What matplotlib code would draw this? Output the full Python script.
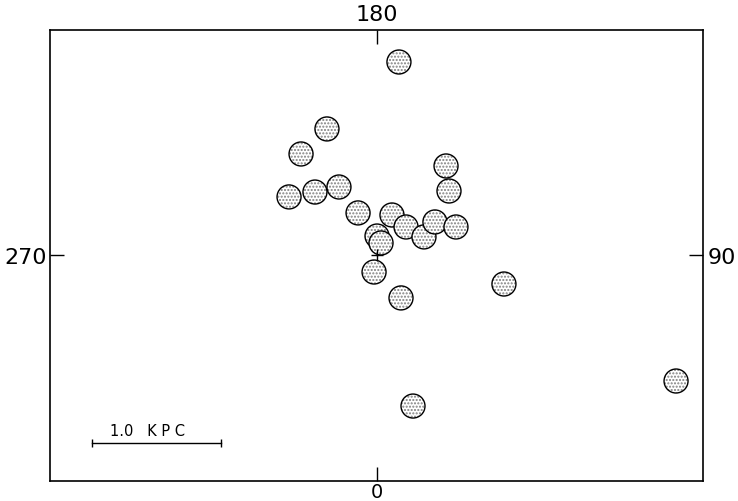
import matplotlib.pyplot as plt
from matplotlib.patches import Circle

# positions of the clusters in kpc (0,0 = centre, up = 180, right = 90)
x_kpc = [0.174, -0.384, -0.585, -0.678, -0.477, -0.291, -0.143, 0.539, 0.562,
         0.120, 0.229, 0.368, 0.453, 0.616, 0.004, 0.035, -0.019, 0.190,
         0.988, 0.283, 2.322]
y_kpc = [1.496, 0.977, 0.783, 0.450, 0.488, 0.527, 0.326, 0.690, 0.496,
         0.310, 0.217, 0.140, 0.256, 0.217, 0.147, 0.093, -0.132, -0.333,
         -0.225, -1.171, -0.977]

edge_ticks = [0]
bottom_labels = ["0"]
top_labels = ["180"]
left_labels = ["270"]
right_labels = ["90"]

scale_length = 1.0
scale_label = "1.0   K P C"

radius = 0.093

fig = plt.figure(figsize=(7.38, 5.02), dpi=100)
ax = fig.add_axes([50 / 738, 20 / 502, 653 / 738, 451 / 502])
ax.set_xlim(-2.531, 2.531)
ax.set_ylim(-1.752, 1.744)
ax.set_aspect("equal")

for x, y in zip(x_kpc, y_kpc):
    # stipple first, then the outline on top
    ax.add_patch(Circle((x, y), radius, facecolor="white", edgecolor="0.5",
                        hatch=".....", linewidth=0))
    ax.add_patch(Circle((x, y), radius, facecolor="none", edgecolor="black",
                        linewidth=1.0))

# centre mark
ax.plot([0], [0], marker="+", markersize=9, color="black", markeredgewidth=1.0)

# scale bar
bar_x = -2.205
bar_y = -1.457
ax.plot([bar_x, bar_x + scale_length], [bar_y, bar_y], color="black",
        linewidth=1.0, marker="|", markersize=6, markeredgewidth=1.0)
ax.text(bar_x + 0.43, bar_y + 0.095, scale_label, ha="center", va="center",
        fontsize=10.5, family="DejaVu Sans")

for s in ax.spines.values():
    s.set_linewidth(1.2)

ax.set_xticks(edge_ticks, labels=bottom_labels)
ax.set_yticks(edge_ticks, labels=left_labels)
ax.tick_params(direction="in", length=10, width=1.0, labelsize=16)
ax.tick_params(axis="x", pad=1, labelsize=14)
ax.tick_params(axis="y", pad=2)

top = ax.secondary_xaxis("top")
top.set_xticks(edge_ticks, labels=top_labels)
top.tick_params(direction="in", length=10, width=1.0, labelsize=16, pad=4)
top.spines["top"].set_visible(False)

right = ax.secondary_yaxis("right")
right.set_yticks(edge_ticks, labels=right_labels)
right.tick_params(direction="in", length=10, width=1.0, labelsize=16, pad=3)
right.spines["right"].set_visible(False)

plt.savefig("out.png", dpi=100)
